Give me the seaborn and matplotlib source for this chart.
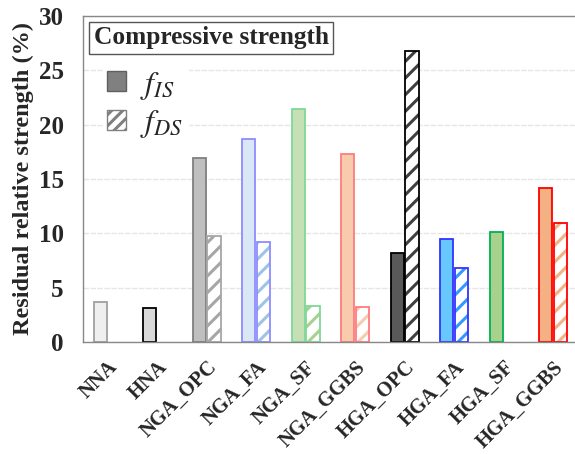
import numpy as np
import pandas as pd
import matplotlib
matplotlib.use("Agg")
import matplotlib.pyplot as plt
import seaborn as sns
from matplotlib.patches import Rectangle, Patch

categories = ["NNA", "HNA", "NGA_OPC", "NGA_FA", "NGA_SF", "NGA_GGBS",
              "HGA_OPC", "HGA_FA", "HGA_SF", "HGA_GGBS"]
f_is = [3.7, 3.1, 16.9, 18.65, 21.4, 17.3, 8.2, 9.5, 10.15, 14.2]
f_ds = [np.nan, np.nan, 9.75, 9.23, 3.3, 3.2, 26.8, 6.8, np.nan, 10.95]
series = ["IS", "DS"]

is_face = ["#efefef", "#d9d9d9", "#bfbfbf", "#dae8f6", "#c5e0b4", "#f8cbad",
           "#595959", "#66c8ff", "#a9d18e", "#f4b183"]
is_edge = ["#a0a0a0", "#000000", "#7f7f7f", "#8c8cff", "#7fd89a", "#ff7c80",
           "#000000", "#3333ff", "#00b050", "#ff0000"]
ds_hatch = ["#bbbbbb", "#bbbbbb", "#a6a6a6", "#9dc3e6", "#a9d18e", "#f8cbad",
            "#404040", "#3399ff", "#a9d18e", "#f4b183"]
ds_edge = ["#a0a0a0", "#000000", "#a6a6a6", "#8c8cff", "#7fd89a", "#ff7c80",
           "#000000", "#3333ff", "#00b050", "#ff0000"]

df = pd.DataFrame({
    "cat": categories * 2,
    "val": f_is + f_ds,
    "ser": ["IS"] * len(categories) + ["DS"] * len(categories),
})

sns.set_style("white")
plt.rcParams["font.family"] = ["Liberation Serif", "DejaVu Serif"]
plt.rcParams["mathtext.fontset"] = "stix"
plt.rcParams["hatch.linewidth"] = 2.2

fig = plt.figure(figsize=(5.75, 4.54), dpi=100)
ax = fig.add_axes([0.1443, 0.2467, 1 - 0.1443, 0.9648 - 0.2467])

sns.barplot(data=df, x="cat", y="val", hue="ser", hue_order=series,
            order=categories, width=0.6, gap=0.1, ax=ax, legend=False,
            dodge=True)

def cat_index(p):
    return int(round(p.get_x() + p.get_width() / 2))

conts = ax.containers
for p in conts[0].patches:
    i = cat_index(p)
    p.set_facecolor(is_face[i])
    p.set_edgecolor(is_edge[i])
    p.set_linewidth(1.3)
for p in conts[1].patches:
    i = cat_index(p)
    if np.isnan(f_ds[i]):
        p.set_visible(False)
        continue
    p.set_facecolor("white")
    p.set_edgecolor(ds_hatch[i])
    p.set_hatch("//")
    p.set_linewidth(0)
    ax.add_patch(Rectangle(p.get_xy(), p.get_width(), p.get_height(),
                           fill=False, edgecolor=ds_edge[i], linewidth=1.3,
                           zorder=p.get_zorder() + 0.1))

ax.set_ylim(0, 30)
ax.set_xlim(-0.5, 9.44)
ax.set_yticks([0, 5, 10, 15, 20, 25, 30])
ax.set_yticklabels(["0", "5", "10", "15", "20", "25", "30"],
                   fontsize=18, fontweight="bold")
ax.set_xticks(range(len(categories)))
ax.set_xticklabels(categories, rotation=45, ha="right", rotation_mode="anchor",
                   fontsize=14.8, fontweight="bold")
ax.set_xlabel("")
ax.set_ylabel("Residual relative strength (%)", fontsize=17.5,
              fontweight="bold", labelpad=3)
ax.yaxis.grid(True, color="#e6e6e6", linewidth=1.0, linestyle=(0, (4, 1)))
ax.set_axisbelow(True)
ax.tick_params(axis="y", direction="in", length=7, color="#888888", pad=14)
ax.tick_params(axis="x", direction="out", length=4, color="#888888", pad=7)
for s in ["left", "bottom", "top"]:
    ax.spines[s].set_color("#888888")
    ax.spines[s].set_linewidth(1.0)
ax.spines["right"].set_visible(False)

ax.text(0.022, 0.968, "Compressive strength", transform=ax.transAxes,
        fontsize=18.3, fontweight="bold", va="top", ha="left",
        bbox=dict(boxstyle="square,pad=0.18", facecolor="white",
                  edgecolor="#555555", linewidth=1.0))

h_is = Patch(facecolor="#808080", edgecolor="#606060", linewidth=1.0)
h_ds = Patch(facecolor="white", edgecolor="#808080", hatch="///", linewidth=1.0)
leg = ax.legend([h_is, h_ds], [r"$f_{IS}$", r"$f_{DS}$"],
                loc="upper left", bbox_to_anchor=(0.04, 0.85),
                borderaxespad=0,
                fontsize=23, frameon=True, facecolor="white", edgecolor="white",
                framealpha=1, handlelength=0.58, handleheight=0.58,
                handletextpad=0.45, labelspacing=0.2, borderpad=0.15)
leg.set_zorder(0.8)

fig.savefig("out.png", dpi=100)
